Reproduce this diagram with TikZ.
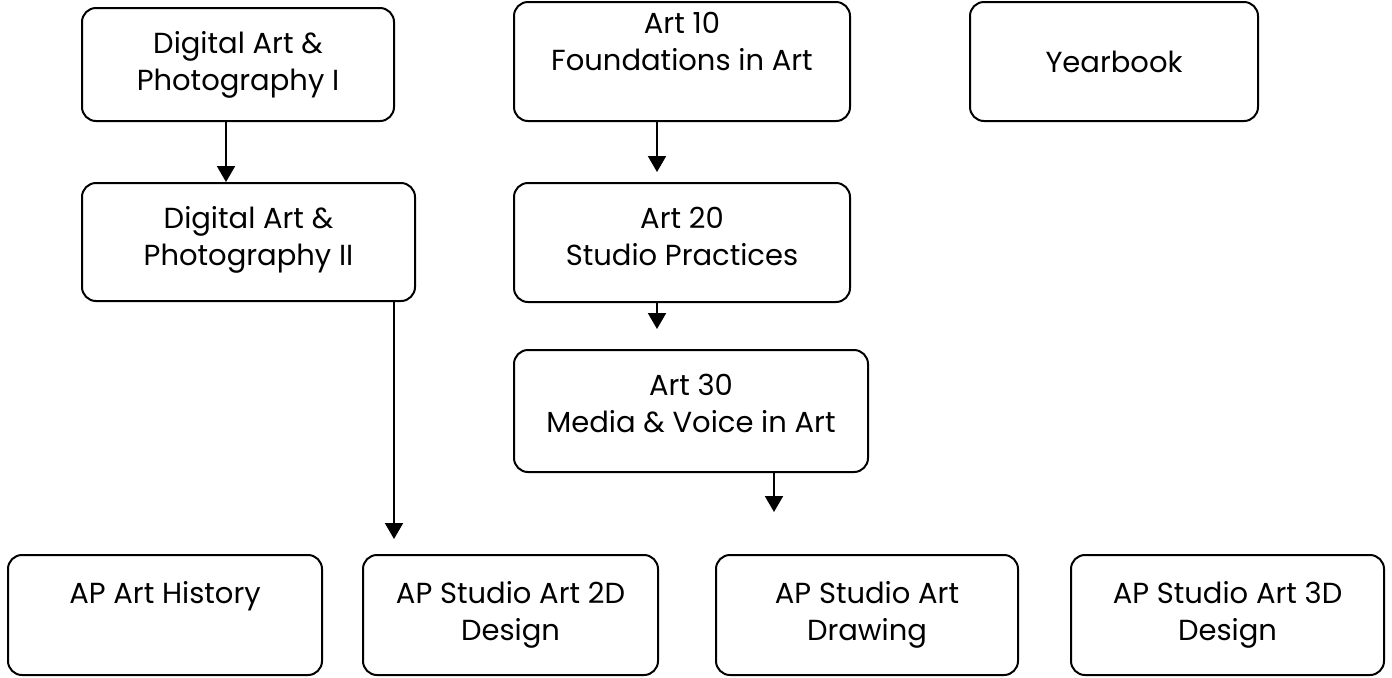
\documentclass[tikz,border=0pt]{standalone}
\usepackage{fontspec}
\setmainfont{Poppins}
\usepackage{tikz}
\usetikzlibrary{arrows.meta, positioning}

\begin{document}
\begin{tikzpicture}[x=0.5pt, y=-0.5pt,
	course/.style={draw, line width=1pt, rounded corners=7pt, inner sep=0pt},
	course text/.style={align=center, inner sep=0pt, font=\fontsize{14.5}{18.5}\selectfont},
	flow/.style={-{Triangle[width=9pt, length=8pt]}, line width=1pt}]

% a course box: name, left, top, right, bottom, text pad, text
\newcommand{\course}[7]{%
	\node[course, minimum width={(#4-#2)*0.5pt}, minimum height={(#5-#3)*0.5pt}] (#1) at ({(#2+#4)/2}, {(#3+#5)/2}) {};
	\node[course text, below=#6 of #1.north] (#1 text) {#7};
}

\useasboundingbox (0,0) rectangle (1392,677);

\course{dapone}{82}{8}{394}{121}{12pt}{Digital Art \&\\Photography I}
\course{daptwo}{82}{183}{415}{301}{12pt}{Digital Art \&\\Photography II}
\course{artten}{514}{2}{850}{121}{5.5pt}{Art 10\\Foundations in Art}
\course{arttwenty}{514}{183}{850}{302}{12.5pt}{Art 20\\Studio Practices}
\course{artthirty}{514}{350}{868}{472}{12.5pt}{Art 30\\Media \& Voice in Art}
\course{yearbook}{970}{2}{1258}{121}{25pt}{Yearbook}

\course{history}{8}{555}{322}{675}{13.5pt}{AP Art History}
\course{twod}{363}{555}{658}{675}{13.5pt}{AP Studio Art 2D\\Design}
\course{drawing}{716}{555}{1018}{675}{13.5pt}{AP Studio Art\\Drawing}
\course{threed}{1071}{555}{1384}{675}{13.5pt}{AP Studio Art 3D\\Design}

% prerequisites
\draw[flow] ([xshift=-6pt]dapone.south) -- ([xshift=-6pt]dapone.south |- daptwo.north);
\draw[flow, shorten >=5pt] ([xshift=-12.5pt]artten.south) -- ([xshift=-12.5pt]artten.south |- arttwenty.north);
\draw[flow, shorten >=10pt] ([xshift=-12.5pt]arttwenty.south) -- ([xshift=-12.5pt]arttwenty.south |- artthirty.north);
\draw[flow, shorten >=7.5pt] ([xshift=-11pt]daptwo.south east) -- ([xshift=-11pt]daptwo.south east |- twod.north);
\draw[flow, shorten >=21pt] ([xshift=41.5pt]artthirty.south) -- ([xshift=41.5pt]artthirty.south |- drawing.north);

\end{tikzpicture}
\end{document}
